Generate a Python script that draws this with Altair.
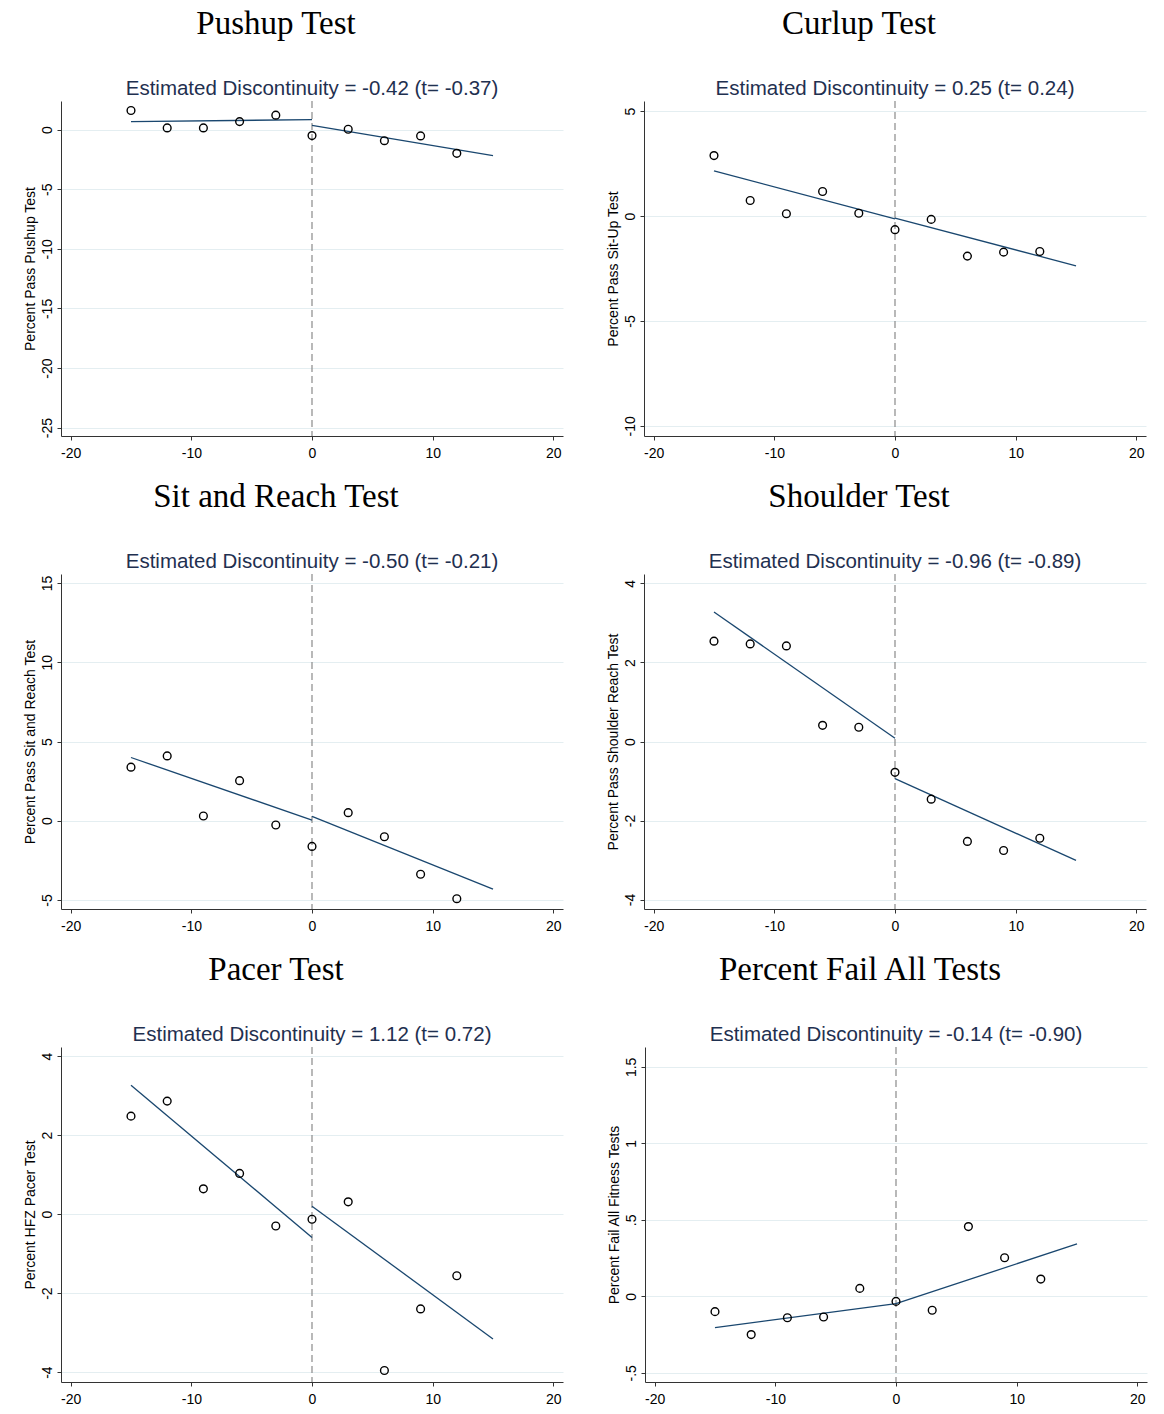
import altair as alt
import pandas as pd

# ---------------- data ----------------
x_bins = [-15, -12, -9, -6, -3, 0, 3, 6, 9, 12]
fit_left_x = [-15, 0]
fit_right_x = [0, 15]
x_ticks = [-20, -10, 0, 10, 20]

titles = ["Pushup Test", "Curlup Test", "Sit and Reach Test",
          "Shoulder Test", "Pacer Test", "Percent Fail All Tests"]
subtitles = [
    "Estimated Discontinuity = -0.42 (t= -0.37)",
    "Estimated Discontinuity = 0.25 (t= 0.24)",
    "Estimated Discontinuity = -0.50 (t= -0.21)",
    "Estimated Discontinuity = -0.96 (t= -0.89)",
    "Estimated Discontinuity = 1.12 (t= 0.72)",
    "Estimated Discontinuity = -0.14 (t= -0.90)",
]
y_titles = ["Percent Pass Pushup Test", "Percent Pass Sit-Up Test",
            "Percent Pass Sit and Reach Test", "Percent Pass Shoulder Reach Test",
            "Percent  HFZ Pacer Test", "Percent Fail All Fitness Tests"]

pushup = [1.60, 0.14, 0.14, 0.67, 1.21, -0.50, 0.03, -0.93, -0.53, -1.99]
curlup = [2.88, 0.74, 0.11, 1.17, 0.13, -0.65, -0.16, -1.91, -1.72, -1.69]
sitreach = [3.38, 4.09, 0.30, 2.53, -0.27, -1.62, 0.51, -1.01, -3.38, -4.92]
shoulder = [2.54, 2.47, 2.42, 0.41, 0.36, -0.78, -1.46, -2.53, -2.76, -2.45]
pacer = [2.48, 2.86, 0.64, 1.03, -0.30, -0.13, 0.31, -3.96, -2.40, -1.56]
failall = [-0.10, -0.25, -0.14, -0.135, 0.052, -0.033, -0.091, 0.456, 0.252, 0.113]
series = [pushup, curlup, sitreach, shoulder, pacer, failall]

fit_left = [[0.67, 0.84], [2.15, -0.14], [3.99, 0.04],
            [3.28, 0.08], [3.26, -0.59], [-0.204, -0.048]]
fit_right = [[0.36, -2.19], [-0.10, -2.37], [0.27, -4.32],
             [-0.94, -3.01], [0.20, -3.16], [-0.048, 0.343]]

y_ticks = [[0, -5, -10, -15, -20, -25], [5, 0, -5, -10], [15, 10, 5, 0, -5],
           [4, 2, 0, -2, -4], [4, 2, 0, -2, -4], [1.5, 1, 0.5, 0, -0.5]]
y_domains = [[-25.7, 2.4], [-10.48, 5.48], [-5.57, 15.57],
             [-4.24, 4.24], [-4.25, 4.23], [-0.56, 1.63]]
x_domain = [-20.8, 20.8]

# ---------------- styling ----------------
W, H = 502, 335
SANS = "Liberation Sans"
SERIF = "Liberation Serif"
NAVY = "#1a476f"
SUBCOL = "#1f3050"
LABEL_EXPR = ("datum.value == 0.5 ? '.5' : datum.value == -0.5 ? '-.5' : "
              "toString(datum.value)")


def panel(i):
    xs = alt.X("x:Q", scale=alt.Scale(domain=x_domain, nice=False, zero=False),
               axis=alt.Axis(values=x_ticks, title=None, grid=False,
                             labelExpr=LABEL_EXPR, labelFont=SANS, labelFontSize=14,
                             labelColor="#000", labelPadding=6, tickSize=4,
                             domainColor="#333", tickColor="#333"))
    ys = alt.Y("y:Q", scale=alt.Scale(domain=y_domains[i], nice=False, zero=False),
               axis=alt.Axis(values=y_ticks[i], title=y_titles[i], grid=True,
                             gridColor="#e4eef1", labelExpr=LABEL_EXPR,
                             labelAngle=270, labelAlign="center",
                             labelBaseline="bottom", labelFont=SANS,
                             labelFontSize=14, labelColor="#000", labelPadding=3,
                             tickSize=4, domainColor="#333", tickColor="#333",
                             titleFont=SANS, titleFontSize=14, titleFontWeight="normal",
                             titleColor="#000", titlePadding=3))

    pts = pd.DataFrame({"x": x_bins, "y": series[i]})
    left = pd.DataFrame({"x": fit_left_x, "y": fit_left[i]})
    right = pd.DataFrame({"x": fit_right_x, "y": fit_right[i]})

    rule = alt.Chart(pd.DataFrame({"x": [0]})).mark_rule(
        color="#8a8a8a", strokeDash=[7, 4], strokeWidth=1.2
    ).encode(x=xs)
    l1 = alt.Chart(left).mark_line(color=NAVY, strokeWidth=1.3).encode(x=xs, y=ys)
    l2 = alt.Chart(right).mark_line(color=NAVY, strokeWidth=1.3).encode(x=xs, y=ys)
    dots = alt.Chart(pts).mark_point(
        shape="circle", filled=False, size=60, stroke="#000", strokeWidth=1.4,
        opacity=1
    ).encode(x=xs, y=ys)

    sub = alt.Chart(pd.DataFrame({"t": [subtitles[i]]})).mark_text(
        font=SANS, fontSize=20.5, color=SUBCOL, align="center", baseline="middle"
    ).encode(text="t:N", x=alt.value(W / 2), y=alt.value(-12))
    ttl = alt.Chart(pd.DataFrame({"t": [titles[i]]})).mark_text(
        font=SERIF, fontSize=33, color="#000", align="center", baseline="middle"
    ).encode(text="t:N", x=alt.value(215), y=alt.value(-77))

    return alt.layer(rule, l1, l2, dots, sub, ttl).properties(width=W, height=H)


rows = [alt.hconcat(panel(2 * r), panel(2 * r + 1), spacing=43) for r in range(3)]
chart = alt.vconcat(*rows, spacing=21).properties(
    padding={"left": 23, "top": 8, "right": 5, "bottom": 5},
    background="white",
).configure_view(stroke=None)

chart.save("out.html", embed_options={"renderer": "svg", "actions": False})
